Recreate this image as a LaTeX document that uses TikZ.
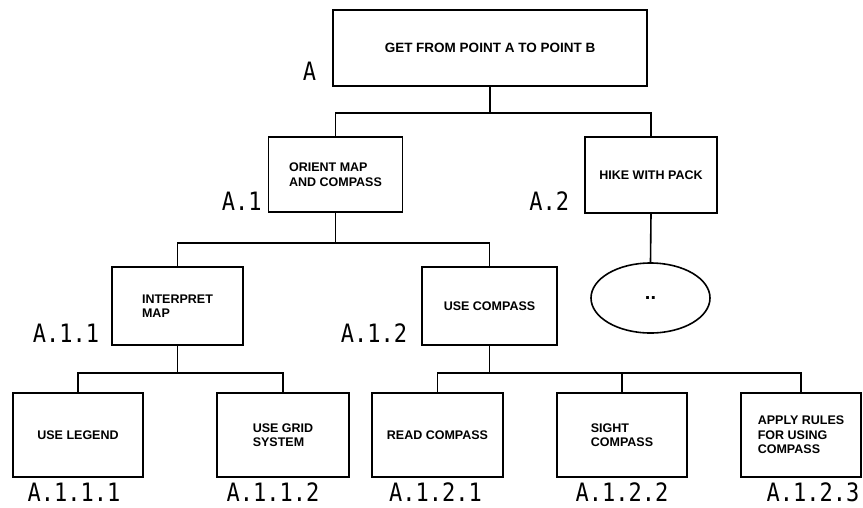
\documentclass[tikz,border=0pt]{standalone}
\usepackage{fontspec}
\usepackage{graphicx}
\newfontfamily\boxfont{Liberation Sans}
\newfontfamily\tagfont{DejaVu Sans Mono}
\newcommand{\tagtxt}[1]{\scalebox{1}[1.15]{#1}}
\usetikzlibrary{shapes.geometric, positioning}

\begin{document}
\begin{tikzpicture} [
    x=1pt, y=-1pt,
    task/.style={rectangle, draw, line width=1.6pt, minimum width=131pt, minimum height=78pt, inner sep=2pt, align=left, font=\boxfont\bfseries\fontsize{12.5}{14.5}\selectfont},
    leaf/.style={task, minimum height=84pt},
    tag/.style={inner sep=0pt, font=\tagfont\fontsize{22}{22}\selectfont},
    line/.style={draw, line width=1.6pt}
]
    \useasboundingbox (0,0) rectangle (863,507);

    % Nodes
    \node[task, minimum width=314pt, minimum height=76pt, font=\boxfont\bfseries\fontsize{13.5}{15}\selectfont] (root) at (490,48) {GET FROM POINT A TO POINT B};
    \node[task, minimum width=134pt, minimum height=75pt] (orient) at (335.5,174.5) {ORIENT MAP\\AND COMPASS};
    \node[task, minimum width=132pt, minimum height=76pt] (hike) at (651,175) {HIKE WITH PACK};
    \node[ellipse, draw, line width=1.6pt, minimum width=119pt, minimum height=70pt, font=\boxfont\bfseries\fontsize{20}{20}\selectfont] (more) at (650.5,298) {..};

    \node[task] (interpret) at (177.5,306) {INTERPRET\\MAP};
    \node[task, minimum width=135pt] (compass) at (489.5,306) {USE COMPASS};

    \node[leaf, minimum width=130pt] (legend) at (78,435) {USE LEGEND};
    \node[leaf, minimum width=132pt] (grid) at (283,435) {USE GRID\\SYSTEM};
    \node[leaf] (readc) at (437.5,435) {READ COMPASS};
    \node[leaf, minimum width=130pt] (sight) at (622,435) {SIGHT\\COMPASS};
    \node[leaf, minimum width=120pt] (apply) at (801,435) {APPLY RULES\\FOR USING\\COMPASS};

    % Labels
    \node[tag, left=16pt of root.south west, anchor=south east, yshift=6pt] (tag_root) {\tagtxt{A}};
    \node[tag, left=6pt of orient.south west, anchor=south east, yshift=2pt] (tag_orient) {\tagtxt{A.1}};
    \node[tag, left=15pt of hike.south west, anchor=south east, yshift=3pt] (tag_hike) {\tagtxt{A.2}};
    \node[tag, left=12pt of interpret.south west, anchor=south east, yshift=3pt] (tag_interpret) {\tagtxt{A.1.1}};
    \node[tag, left=14pt of compass.south west, anchor=south east, yshift=3pt] (tag_compass) {\tagtxt{A.1.2}};
    \node[tag, below=5pt of legend, xshift=-4pt] (tag_legend) {\tagtxt{A.1.1.1}};
    \node[tag, below=5pt of grid, xshift=-10pt] (tag_grid) {\tagtxt{A.1.1.2}};
    \node[tag, below=5pt of readc, xshift=-2pt] (tag_readc) {\tagtxt{A.1.2.1}};
    \node[tag, below=5pt of sight] (tag_sight) {\tagtxt{A.1.2.2}};
    \node[tag, below=5pt of apply, xshift=12pt] (tag_apply) {\tagtxt{A.1.2.3}};

    % Connectors
    \path [line] (root.south) -- ++(0,26) -| (orient.north);
    \path [line] (root.south) -- ++(0,26) -| (hike.north);
    \path [line] (hike.south) -- (more.north);
    \path [line] (orient.south) -- ++(0,30) -| (interpret.north);
    \path [line] (orient.south) -- ++(0,30) -| (compass.north);
    \path [line] (interpret.south) -- ++(0,27) -| (legend.north);
    \path [line] (interpret.south) -- ++(0,27) -| (grid.north);
    \path [line] (compass.south) -- ++(0,27) -| (readc.north);
    \path [line] (compass.south) -- ++(0,27) -| (sight.north);
    \path [line] (compass.south) -- ++(0,27) -| (apply.north);

\end{tikzpicture}
\end{document}
